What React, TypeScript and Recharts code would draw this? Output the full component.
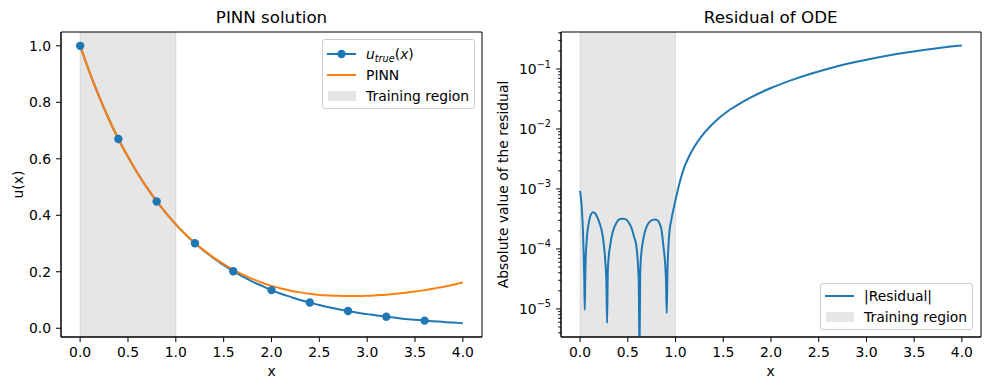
import React from 'react';
import { LineChart, Line, XAxis, YAxis, ReferenceArea, Legend } from 'recharts';

const FONT = '"DejaVu Sans", sans-serif';
const BLUE = '#1f77b4';
const ORANGE = '#ff7f0e';

// left panel: exact solution vs PINN
const xGrid = [
  0.0, 0.1, 0.2, 0.3, 0.4, 0.5, 0.6, 0.7, 0.8, 0.9, 1.0, 1.1, 1.2, 1.3, 1.4, 1.5, 1.6, 1.7, 1.8, 1.9, 2.0,
  2.1, 2.2, 2.3, 2.4, 2.5, 2.6, 2.7, 2.8, 2.9, 3.0, 3.1, 3.2, 3.3, 3.4, 3.5, 3.6, 3.7, 3.8, 3.9, 4.0,
];
const uTrue = [
  1.0, 0.905, 0.819, 0.741, 0.67, 0.607, 0.549, 0.497, 0.449, 0.407, 0.368, 0.333, 0.301, 0.273, 0.247,
  0.223, 0.202, 0.183, 0.165, 0.15, 0.135, 0.122, 0.111, 0.1, 0.091, 0.082, 0.074, 0.067, 0.061, 0.055,
  0.05, 0.045, 0.041, 0.037, 0.033, 0.03, 0.027, 0.025, 0.022, 0.02, 0.018,
];
const uPinn = [
  1.0, 0.905, 0.819, 0.741, 0.67, 0.607, 0.549, 0.497, 0.45, 0.407, 0.368, 0.333, 0.302, 0.274, 0.249,
  0.227, 0.207, 0.19, 0.175, 0.161, 0.15, 0.141, 0.133, 0.127, 0.122, 0.118, 0.116, 0.115, 0.114, 0.114,
  0.115, 0.117, 0.119, 0.122, 0.126, 0.13, 0.135, 0.141, 0.147, 0.154, 0.162,
];
const markerX = [0.0, 0.4, 0.8, 1.2, 1.6, 2.0, 2.4, 2.8, 3.2, 3.6];
const xTicks = [0, 0.5, 1, 1.5, 2, 2.5, 3, 3.5, 4];
const uTicks = [0, 0.2, 0.4, 0.6, 0.8, 1.0];

// right panel: |residual|
const resX = [
  0, 0.01, 0.02, 0.03, 0.038, 0.044, 0.049, 0.055, 0.06, 0.067, 0.075, 0.085, 0.1, 0.115, 0.136, 0.16,
  0.18, 0.2, 0.224, 0.25, 0.265, 0.275, 0.283, 0.29, 0.3, 0.314, 0.33, 0.35, 0.38, 0.41, 0.444, 0.48,
  0.51, 0.54, 0.565, 0.59, 0.605, 0.615, 0.622, 0.63, 0.64, 0.65, 0.67, 0.7, 0.73, 0.76, 0.785, 0.81,
  0.835, 0.855, 0.873, 0.89, 0.9, 0.908, 0.915, 0.925, 0.94, 0.955, 0.97, 0.985, 1.0, 1.02, 1.05, 1.089,
  1.14, 1.194, 1.28, 1.369, 1.45, 1.543, 1.6, 1.7, 1.8, 1.9, 2.0, 2.2, 2.4, 2.6, 2.8, 3.0, 3.2, 3.4, 3.6,
  3.8, 4.0,
];
const resVal = [
  9.3e-4, 6.8e-4, 4.3e-4, 2.0e-4, 8e-5, 3e-5, 9.6e-6, 4e-5, 8e-5, 1.2e-4, 1.8e-4, 2.4e-4, 3.2e-4, 3.8e-4,
  4.1e-4, 3.9e-4, 3.4e-4, 2.8e-4, 2.1e-4, 1.15e-4, 6e-5, 3e-5, 5.8e-6, 4e-5, 7.5e-5, 1.1e-4, 1.6e-4,
  2.1e-4, 2.7e-4, 3.1e-4, 3.2e-4, 3.1e-4, 2.75e-4, 2.2e-4, 1.6e-4, 1.1e-4, 6e-5, 2.5e-5, 1.5e-6, 4e-5,
  8e-5, 1.1e-4, 1.7e-4, 2.4e-4, 2.85e-4, 3.05e-4, 3.1e-4, 3.0e-4, 2.6e-4, 2.0e-4, 1.1e-4, 6e-5, 3e-5,
  8.5e-6, 4e-5, 1.1e-4, 2.2e-4, 3.0e-4, 4.0e-4, 5.1e-4, 6.6e-4, 9.1e-4, 1.41e-3, 2.24e-3, 3.44e-3,
  4.95e-3, 7.8e-3, 1.13e-2, 1.5e-2, 1.96e-2, 2.25e-2, 2.81e-2, 3.43e-2, 4.1e-2, 4.83e-2, 6.41e-2,
  8.18e-2, 0.101, 0.122, 0.143, 0.165, 0.187, 0.208, 0.228, 0.246,
];
const logMajor = [1e-5, 1e-4, 1e-3, 1e-2, 1e-1];
const logMajorLabels = ['\u22125', '\u22124', '\u22123', '\u22122', '\u22121'];
const logMinor = [
  4e-6, 5e-6, 6e-6, 7e-6, 8e-6, 9e-6,
  2e-5, 3e-5, 4e-5, 5e-5, 6e-5, 7e-5, 8e-5, 9e-5,
  2e-4, 3e-4, 4e-4, 5e-4, 6e-4, 7e-4, 8e-4, 9e-4,
  2e-3, 3e-3, 4e-3, 5e-3, 6e-3, 7e-3, 8e-3, 9e-3,
  2e-2, 3e-2, 4e-2, 5e-2, 6e-2, 7e-2, 8e-2, 9e-2,
  2e-1, 3e-1, 4e-1,
];

const leftData = xGrid.map((x, i) => ({ x, uTrue: uTrue[i], uPinn: uPinn[i] }));
const rightData = resX.map((x, i) => ({ x, r: resVal[i] }));

const tickStyle = { fill: '#000', fontSize: 13.9, fontFamily: FONT };
const fmt1 = (v: number) => v.toFixed(1);

const renderMarker = (props: any) => {
  const { cx, cy, payload, index } = props;
  if (!markerX.some((m) => Math.abs(m - payload.x) < 1e-9)) return <g key={`m-${index}`} />;
  return <circle key={`m-${index}`} cx={cx} cy={cy} r={4.2} fill={BLUE} />;
};

const LogTick = (props: any) => {
  const { x, y, payload } = props;
  const v = payload.value;
  const mi = logMajor.findIndex((m) => Math.abs(m - v) / m < 1e-6);
  const edge = x + 10;
  const len = mi >= 0 ? 4.9 : 2.8;
  return (
    <g>
      <line x1={edge - len} x2={edge} y1={y} y2={y} stroke="#000" strokeWidth={1} />
      {mi >= 0 && (
        <text x={x} y={y} dy={5} textAnchor="end" fill="#000" fontSize={13.9} fontFamily={FONT}>
          10
          <tspan dy={-6.5} fontSize={9.7}>
            {logMajorLabels[mi]}
          </tspan>
        </text>
      )}
    </g>
  );
};

const boxStyle: React.CSSProperties = {
  position: 'relative',
  boxSizing: 'border-box',
  width: 153,
  border: '1px solid #cccccc',
  borderRadius: 3,
  background: 'rgba(255,255,255,0.8)',
  fontFamily: FONT,
  fontSize: 13.9,
  color: '#000',
};

const Row = ({ top, sample, children }: any) => (
  <div style={{ position: 'absolute', left: 0, top: top - 10, height: 20, width: 150 }}>
    <svg width={30} height={20} style={{ position: 'absolute', left: 4, top: 0 }}>
      {sample}
    </svg>
    <div style={{ position: 'absolute', left: 43, top: 0, lineHeight: '20px', whiteSpace: 'nowrap' }}>
      {children}
    </div>
  </div>
);

const patch = <rect x={1} y={5} width={28} height={10} fill="#808080" fillOpacity={0.2} />;

const LeftLegend = () => (
  <div style={{ ...boxStyle, height: 70 }}>
    <Row
      top={14}
      sample={
        <g>
          <line x1={0} x2={29} y1={10} y2={10} stroke={BLUE} strokeWidth={2} />
          <circle cx={14.5} cy={10} r={4.2} fill={BLUE} />
        </g>
      }
    >
      <i>u</i>
      <sub style={{ fontSize: 9.7, fontStyle: 'italic', verticalAlign: '-3px' }}>true</sub>(<i>x</i>)
    </Row>
    <Row top={35} sample={<line x1={0} x2={29} y1={10} y2={10} stroke={ORANGE} strokeWidth={2} />}>
      PINN
    </Row>
    <Row top={56} sample={patch}>
      Training region
    </Row>
  </div>
);

const RightLegend = () => (
  <div style={{ ...boxStyle, height: 47 }}>
    <Row top={12} sample={<line x1={0} x2={29} y1={10} y2={10} stroke={BLUE} strokeWidth={2} />}>
      |Residual|
    </Row>
    <Row top={33} sample={patch}>
      Training region
    </Row>
  </div>
);

export default function App() {
  return (
    <div style={{ position: 'absolute', left: 0, top: 0, width: 989, height: 390, background: '#fff' }}>
      <div style={{ position: 'absolute', left: 0, top: 0 }}>
        <LineChart width={495} height={390} data={leftData} margin={{ top: 32, right: 13, bottom: 0, left: 0 }}>
          <ReferenceArea x1={0} x2={1} fill="#808080" fillOpacity={0.2} stroke="#808080" strokeOpacity={0.2} />
          <XAxis
            dataKey="x"
            type="number"
            domain={[-0.2, 4.2]}
            ticks={xTicks}
            interval={0}
            tickFormatter={fmt1}
            tickSize={5}
            tickMargin={5}
            height={53}
            stroke="#000"
            tick={tickStyle}
          />
          <YAxis
            type="number"
            domain={[-0.031, 1.049]}
            ticks={uTicks}
            interval={0}
            tickFormatter={fmt1}
            tickSize={5}
            tickMargin={5}
            width={61}
            stroke="#000"
            tick={tickStyle}
          />
          <ReferenceArea x1={-0.2} x2={4.2} fill="none" stroke="#000" strokeWidth={1} />
          <Line
            dataKey="uTrue"
            type="monotone"
            stroke={BLUE}
            strokeWidth={2}
            dot={renderMarker}
            activeDot={false}
            isAnimationActive={false}
          />
          <Line
            dataKey="uPinn"
            type="monotone"
            stroke={ORANGE}
            strokeWidth={2}
            dot={false}
            activeDot={false}
            isAnimationActive={false}
          />
          <Legend
            content={<LeftLegend />}
            layout="vertical"
            align="center"
            verticalAlign="middle"
            wrapperStyle={{ left: 322, top: 39, width: 153, height: 70 }}
          />
        </LineChart>
      </div>
      <div style={{ position: 'absolute', left: 494, top: 0 }}>
        <LineChart width={495} height={390} data={rightData} margin={{ top: 32, right: 8, bottom: 0, left: 0 }}>
          <ReferenceArea x1={0} x2={1} fill="#808080" fillOpacity={0.2} stroke="#808080" strokeOpacity={0.2} />
          <XAxis
            dataKey="x"
            type="number"
            domain={[-0.2, 4.2]}
            ticks={xTicks}
            interval={0}
            tickFormatter={fmt1}
            tickSize={5}
            tickMargin={5}
            height={53}
            stroke="#000"
            tick={tickStyle}
          />
          <YAxis
            type="number"
            scale="log"
            domain={[3.4e-6, 0.414]}
            allowDataOverflow
            ticks={[...logMinor, ...logMajor]}
            interval={0}
            tickSize={5}
            tickMargin={5}
            tickLine={false}
            width={67}
            stroke="#000"
            tick={<LogTick />}
          />
          <ReferenceArea x1={-0.2} x2={4.2} fill="none" stroke="#000" strokeWidth={1} />
          <Line
            dataKey="r"
            type="monotone"
            stroke={BLUE}
            strokeWidth={2}
            dot={false}
            activeDot={false}
            isAnimationActive={false}
          />
          <Legend
            content={<RightLegend />}
            layout="vertical"
            align="center"
            verticalAlign="middle"
            wrapperStyle={{ left: 326, top: 283, width: 153, height: 47 }}
          />
        </LineChart>
      </div>
      <svg
        width={989}
        height={390}
        style={{ position: 'absolute', left: 0, top: 0, pointerEvents: 'none' }}
        fontFamily={FONT}
        fill="#000"
      >
        <text x={271.5} y={23} textAnchor="middle" fontSize={16.7}>PINN solution</text>
        <text x={271.5} y={376} textAnchor="middle" fontSize={13.9}>x</text>
        <text transform="translate(18,184.5) rotate(-90)" textAnchor="middle" dy="0.35em" fontSize={13.9}>
          u(x)
        </text>
        <text x={770.7} y={23} textAnchor="middle" fontSize={16.7}>Residual of ODE</text>
        <text x={770.7} y={376} textAnchor="middle" fontSize={13.9}>x</text>
        <text transform="translate(503,184.5) rotate(-90)" textAnchor="middle" dy="0.35em" fontSize={13.9}>
          Absolute value of the residual
        </text>
      </svg>
    </div>
  );
}
